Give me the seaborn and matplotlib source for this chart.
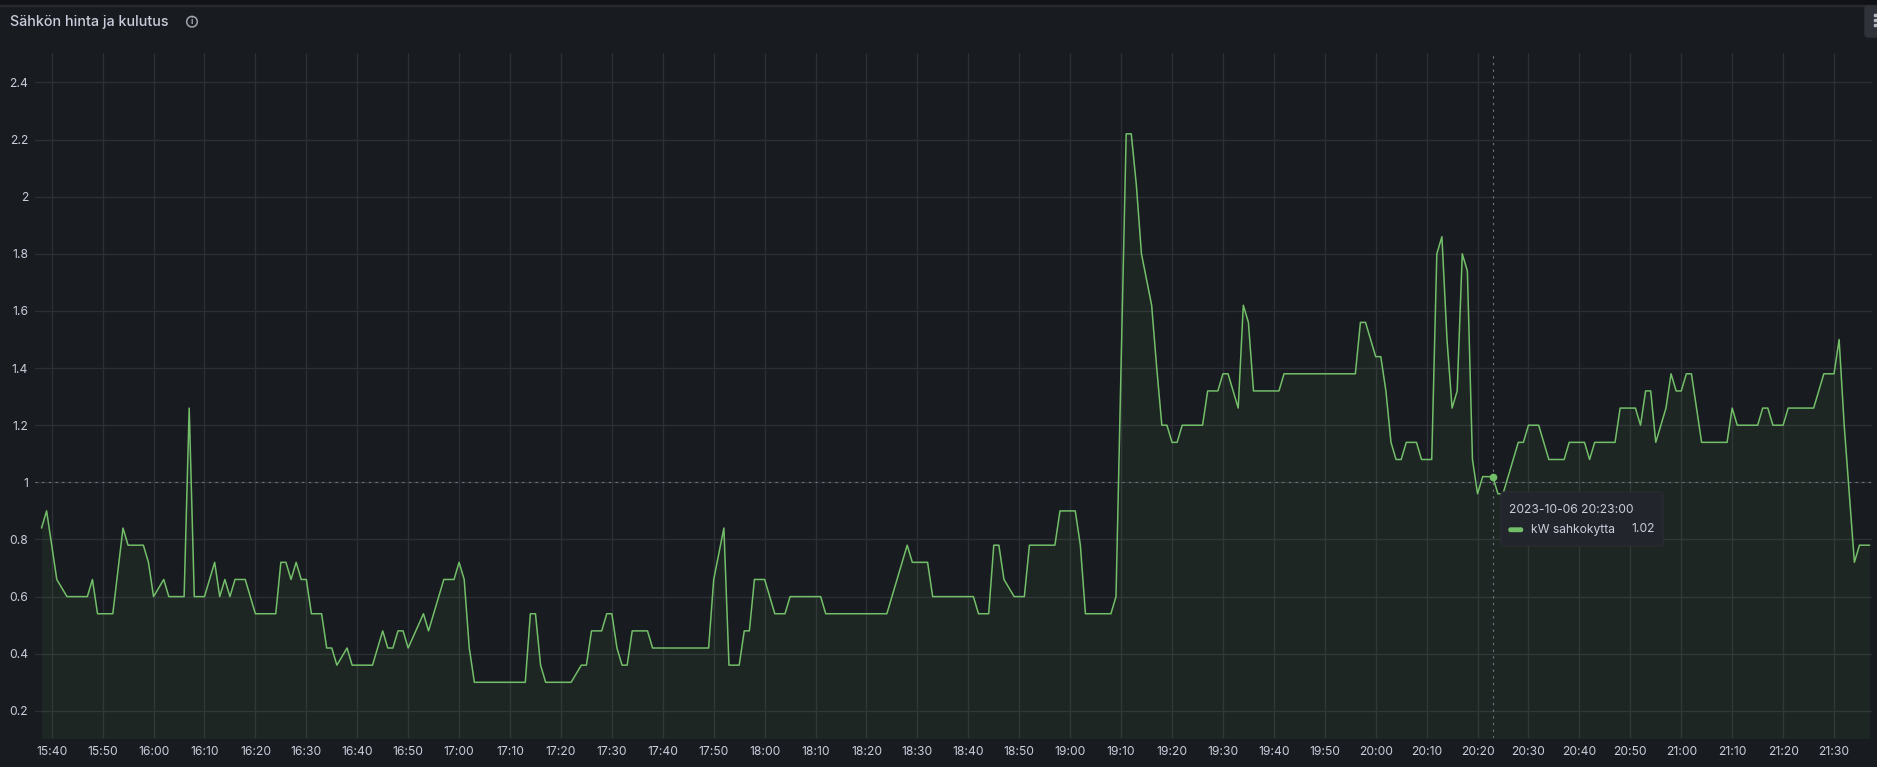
import matplotlib
matplotlib.use("Agg")
import matplotlib.pyplot as plt
import matplotlib.dates as mdates
from matplotlib.patches import Rectangle, FancyBboxPatch, Circle
from matplotlib.transforms import IdentityTransform
import pandas as pd
import seaborn as sns

day = "2023-10-06"

times = ["15:38", "15:39", "15:41", "15:43", "15:47", "15:48", "15:49", "15:52", "15:54", "15:55",
         "15:58", "15:59", "16:00", "16:02", "16:03", "16:06", "16:07", "16:08", "16:10", "16:12",
         "16:13", "16:14", "16:15", "16:16", "16:18", "16:20", "16:24", "16:25", "16:26", "16:27",
         "16:28", "16:29", "16:30", "16:31", "16:33", "16:34", "16:35", "16:36", "16:38", "16:39",
         "16:43", "16:45", "16:46", "16:47", "16:48", "16:49", "16:50", "16:53", "16:54", "16:57",
         "16:59", "17:00", "17:01", "17:02", "17:03", "17:13", "17:14", "17:15", "17:16", "17:17",
         "17:22", "17:24", "17:25", "17:26", "17:28", "17:29", "17:30", "17:31", "17:32", "17:33",
         "17:34", "17:37", "17:38", "17:49", "17:50", "17:52", "17:53", "17:55", "17:56", "17:57",
         "17:58", "18:00", "18:02", "18:04", "18:05", "18:11", "18:12", "18:24", "18:25", "18:27",
         "18:28", "18:29", "18:32", "18:33", "18:41", "18:42", "18:44", "18:45", "18:46", "18:47",
         "18:49", "18:51", "18:52", "18:57", "18:58", "19:01", "19:02", "19:03", "19:08", "19:09",
         "19:11", "19:12", "19:13", "19:14", "19:16", "19:17", "19:18", "19:19", "19:20", "19:21",
         "19:22", "19:26", "19:27", "19:29", "19:30", "19:31", "19:32", "19:33", "19:34", "19:35",
         "19:36", "19:41", "19:42", "19:56", "19:57", "19:58", "20:00", "20:01", "20:02", "20:03",
         "20:04", "20:05", "20:06", "20:08", "20:09", "20:11", "20:12", "20:13", "20:14", "20:15",
         "20:16", "20:17", "20:18", "20:19", "20:20", "20:21", "20:23", "20:24", "20:25", "20:26",
         "20:28", "20:29", "20:30", "20:32", "20:34", "20:37", "20:38", "20:41", "20:42", "20:43",
         "20:47", "20:48", "20:51", "20:52", "20:53", "20:54", "20:55", "20:57", "20:58", "20:59",
         "21:00", "21:01", "21:02", "21:04", "21:09", "21:10", "21:11", "21:15", "21:16", "21:17",
         "21:18", "21:20", "21:21", "21:26", "21:28", "21:30", "21:31", "21:32", "21:34", "21:35",
         "21:37"]

kw = [0.84, 0.90, 0.66, 0.60, 0.60, 0.66, 0.54, 0.54, 0.84, 0.78,
      0.78, 0.72, 0.60, 0.66, 0.60, 0.60, 1.26, 0.60, 0.60, 0.72,
      0.60, 0.66, 0.60, 0.66, 0.66, 0.54, 0.54, 0.72, 0.72, 0.66,
      0.72, 0.66, 0.66, 0.54, 0.54, 0.42, 0.42, 0.36, 0.42, 0.36,
      0.36, 0.48, 0.42, 0.42, 0.48, 0.48, 0.42, 0.54, 0.48, 0.66,
      0.66, 0.72, 0.66, 0.42, 0.30, 0.30, 0.54, 0.54, 0.36, 0.30,
      0.30, 0.36, 0.36, 0.48, 0.48, 0.54, 0.54, 0.42, 0.36, 0.36,
      0.48, 0.48, 0.42, 0.42, 0.66, 0.84, 0.36, 0.36, 0.48, 0.48,
      0.66, 0.66, 0.54, 0.54, 0.60, 0.60, 0.54, 0.54, 0.60, 0.72,
      0.78, 0.72, 0.72, 0.60, 0.60, 0.54, 0.54, 0.78, 0.78, 0.66,
      0.60, 0.60, 0.78, 0.78, 0.90, 0.90, 0.78, 0.54, 0.54, 0.60,
      2.22, 2.22, 2.04, 1.80, 1.62, 1.40, 1.20, 1.20, 1.14, 1.14,
      1.20, 1.20, 1.32, 1.32, 1.38, 1.38, 1.32, 1.26, 1.62, 1.56,
      1.32, 1.32, 1.38, 1.38, 1.56, 1.56, 1.44, 1.44, 1.32, 1.14,
      1.08, 1.08, 1.14, 1.14, 1.08, 1.08, 1.80, 1.86, 1.50, 1.26,
      1.32, 1.80, 1.74, 1.08, 0.96, 1.02, 1.02, 0.96, 0.96, 1.02,
      1.14, 1.14, 1.20, 1.20, 1.08, 1.08, 1.14, 1.14, 1.08, 1.14,
      1.14, 1.26, 1.26, 1.20, 1.32, 1.32, 1.14, 1.26, 1.38, 1.32,
      1.32, 1.38, 1.38, 1.14, 1.14, 1.26, 1.20, 1.20, 1.26, 1.26,
      1.20, 1.20, 1.26, 1.26, 1.38, 1.38, 1.50, 1.20, 0.72, 0.78,
      0.78]

y_ticks = [0.2, 0.4, 0.6, 0.8, 1.0, 1.2, 1.4, 1.6, 1.8, 2.0, 2.2, 2.4]
title = "Sähkön hinta ja kulutus"
series_name = "kW sahkokytta"
hover_time = "20:23:00"
hover_value = 1.02

W, H = 1877, 767
bg = "#181b1f"
green = "#73bf69"
txt = "#ccccdc"
grid_c = "#2c2f35"

sns.set_theme(style="dark")
plt.rcParams["font.family"] = ["Inter", "DejaVu Sans"]

df = pd.DataFrame({"aika": pd.to_datetime(day + " " + pd.Series(times)), "kW": kw})

fig = plt.figure(figsize=(W / 100, H / 100), dpi=100, facecolor=bg)
ax = fig.add_axes([35 / W, (H - 738) / H, (1871.7 - 35) / W, (738 - 53.3) / H])
ax.set_facecolor(bg)

sns.lineplot(data=df, x="aika", y="kW", color=green, lw=1.1, ax=ax, zorder=3)
ax.fill_between(df["aika"], df["kW"], 0, color=green, alpha=0.07, lw=0, zorder=2)

t0 = pd.Timestamp(f"{day} 15:40")
ax.set_xlim(t0 - pd.Timedelta(minutes=3.28), t0 + pd.Timedelta(minutes=357.4))
ax.set_ylim(0.105, 2.502)

ax.set_xticks(pd.date_range(f"{day} 15:40", f"{day} 21:30", freq="10min"))
ax.xaxis.set_major_formatter(mdates.DateFormatter("%H:%M"))
ax.set_yticks(y_ticks)
ax.set_yticklabels([f"{v:g}" for v in y_ticks])
ax.set_xlabel("")
ax.set_ylabel("")
ax.grid(True, color=grid_c, lw=1)
for s in ax.spines.values():
    s.set_visible(False)
ax.tick_params(axis="both", length=0, colors=txt, labelsize=8.7)
ax.tick_params(axis="y", pad=5)
ax.tick_params(axis="x", pad=6)

# hover crosshair and point
th = pd.Timestamp(f"{day} {hover_time}")
ax.axhline(1.0, color="#6c7a86", lw=0.8, ls=(0, (2, 4)), zorder=4)
ax.axvline(th, color="#6c7a86", lw=0.8, ls=(0, (2, 4)), zorder=4)
ax.plot([th], [hover_value], "o", ms=4.5, color=green, zorder=5)

px = IdentityTransform()

# page strip and panel header
fig.patches.append(Rectangle((0, H - 4.5), W, 4.5, transform=px, color="#111217", zorder=0))
fig.patches.append(Rectangle((0, H - 5.5), W, 1, transform=px, color="#26292f", zorder=0))
fig.text(10 / W, 1 - 22 / H, title, color=txt, fontsize=10.3, fontweight="medium",
         ha="left", va="center")
fig.patches.append(Circle((192, H - 21.7), 5.3, transform=px, fill=False, ec="#9fa3ab", lw=1.1))
fig.text(192 / W, 1 - 21.5 / H, "i", color="#9fa3ab", fontsize=6.5, fontweight="bold",
         ha="center", va="center")
fig.patches.append(FancyBboxPatch((1865, H - 37), 20, 31, boxstyle="round,pad=0,rounding_size=3",
                                  transform=px, color="#2f3238", zorder=1))
for yy in (15, 20, 25):
    fig.patches.append(Rectangle((1874, H - yy - 1), 3, 2, transform=px, color="#b5b8bf", zorder=2))

# tooltip
fig.patches.append(FancyBboxPatch((1501, H - 546), 162, 54, boxstyle="round,pad=0,rounding_size=2",
                                  transform=px, fc="#22252b", ec="#2a2d33", lw=0.8, zorder=6))
fig.text(1509 / W, 1 - 510 / H, f"{day} {hover_time}", color=txt, fontsize=8.7,
         ha="left", va="center", zorder=7)
fig.patches.append(FancyBboxPatch((1509, H - 531.5), 13.5, 3.5, boxstyle="round,pad=0,rounding_size=1.5",
                                  transform=px, color=green, zorder=7))
fig.text(1531 / W, 1 - 529.5 / H, series_name, color=txt, fontsize=8.7,
         ha="left", va="center", zorder=7)
fig.text(1655 / W, 1 - 529.5 / H, f"{hover_value:.2f}", color=txt, fontsize=8.7,
         ha="right", va="center", zorder=7)

fig.savefig("out.png", dpi=100, facecolor=bg)
